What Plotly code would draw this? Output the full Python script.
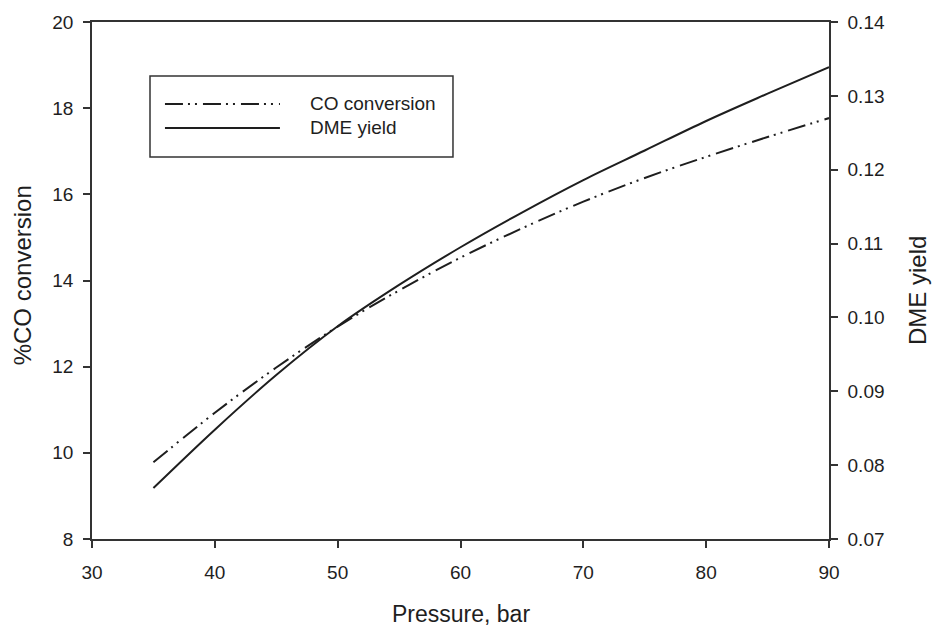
import plotly.graph_objects as go

# Pressure sweep and model outputs
pressure = [35, 40, 45, 50, 55, 60, 65, 70, 75, 80, 85, 90]
co_conversion = [9.78, 10.93, 11.98, 12.93, 13.77, 14.53, 15.21, 15.83, 16.38, 16.87, 17.33, 17.77]
dme_yield = [0.0769, 0.0848, 0.0922, 0.0988, 0.1044, 0.1095, 0.1142, 0.1186, 0.1226, 0.1266, 0.1303, 0.1339]

series_names = ["CO conversion", "DME yield"]
x_ticks = [30, 40, 50, 60, 70, 80, 90]
left_ticks = [8, 10, 12, 14, 16, 18, 20]
right_ticks = [0.07, 0.08, 0.09, 0.10, 0.11, 0.12, 0.13, 0.14]

INK = "#1e1e1e"
FONT = "Liberation Sans, Arial, sans-serif"
DASH_DOT_DOT = "18px,5px,2px,5px,2px,6px"

fig = go.Figure()
fig.add_trace(go.Scatter(
    x=pressure, y=co_conversion, name=series_names[0], mode="lines",
    line=dict(color=INK, width=2, dash=DASH_DOT_DOT, shape="spline"),
    yaxis="y", showlegend=False,
))
fig.add_trace(go.Scatter(
    x=pressure, y=dme_yield, name=series_names[1], mode="lines",
    line=dict(color=INK, width=2, shape="spline"),
    yaxis="y2", showlegend=False,
))

axis_common = dict(
    showgrid=False, zeroline=False, showline=True, linecolor="#333333", linewidth=1.5,
    ticks="outside", ticklen=7, tickwidth=1.5, tickcolor="#333333",
    tickfont=dict(family=FONT, size=19, color=INK),
)

fig.update_layout(
    width=932, height=627,
    margin=dict(l=92, r=103, t=22, b=88),
    paper_bgcolor="white", plot_bgcolor="white",
    font=dict(family=FONT, color=INK),
    xaxis=dict(range=[30, 90], tickvals=x_ticks, mirror=True, ticklabelstandoff=8, **axis_common),
    yaxis=dict(range=[8, 20], tickvals=left_ticks, ticklabelstandoff=6, **axis_common),
    yaxis2=dict(range=[0.07, 0.14], tickvals=right_ticks, tickformat=".2f",
                overlaying="y", side="right", ticklabelstandoff=6, **axis_common),
)

# Axis titles
fig.add_annotation(text="Pressure, bar", xref="paper", yref="paper", x=0.5, y=-0.145,
                   xanchor="center", yanchor="middle", showarrow=False,
                   font=dict(family=FONT, size=23, color=INK))
fig.add_annotation(text="%CO conversion", xref="paper", yref="paper", x=-0.095, y=0.51,
                   textangle=-90, xanchor="center", yanchor="middle", showarrow=False,
                   font=dict(family=FONT, size=24, color=INK))
fig.add_annotation(text="DME yield", xref="paper", yref="paper", x=1.121, y=0.48,
                   textangle=-90, xanchor="center", yanchor="middle", showarrow=False,
                   font=dict(family=FONT, size=24, color=INK))

# Boxed key in the upper left of the plot area
fig.add_shape(type="rect", xref="paper", yref="paper", x0=0.0787, x1=0.4898, y0=0.7389, y1=0.8956,
              line=dict(color="#333333", width=1.5), fillcolor="white", layer="above")
key_rows = [0.8414, 0.795]
key_dash = [DASH_DOT_DOT, "solid"]
for name, ky, dash in zip(series_names, key_rows, key_dash):
    fig.add_shape(type="line", xref="paper", yref="paper", x0=0.099, x1=0.255, y0=ky, y1=ky,
                  line=dict(color=INK, width=2, dash=dash), layer="above")
    fig.add_annotation(text=name, xref="paper", yref="paper", x=0.293, y=ky,
                       xanchor="left", yanchor="middle", showarrow=False,
                       font=dict(family=FONT, size=19, color=INK))

fig.write_html("out.html")
